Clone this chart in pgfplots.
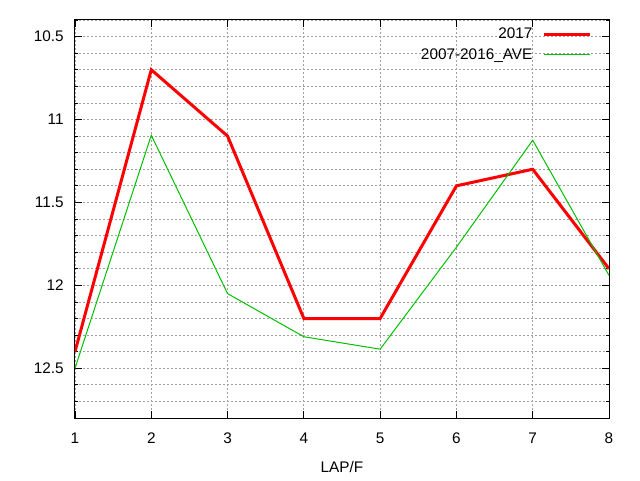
\documentclass[border=0pt]{standalone}
\usepackage{fontspec}
\setmainfont{Liberation Sans}
\usepackage{pgfplots}
\pgfplotsset{compat=1.18}
\definecolor{gpred}{RGB}{255,0,0}
\definecolor{gpgreen}{RGB}{0,192,0}
\definecolor{gpgrid}{RGB}{160,160,160}
\newcommand{\gpfont}{\fontsize{11.5}{13.8}\selectfont}
\begin{document}
\gpfont
\begin{tikzpicture}
\begin{axis}[
    name=ax,
    scale only axis,
    width=400.5pt,
    height=298.5pt,
    xmin=1, xmax=8,
    ymin=10.4, ymax=12.8,
    y dir=reverse,
    xtick={1,...,8},
    ytick={10.5,11,11.5,12,12.5},
    minor ytick={10.4,10.5,...,12.8},
    grid=both,
    major grid style={gpgrid, line width=0.6pt, dash pattern=on 1.2pt off 1.8pt},
    minor grid style={gpgrid, line width=0.6pt, dash pattern=on 1.2pt off 1.8pt},
    tick align=inside,
    major tick length=5pt,
    minor tick length=2.5pt,
    axis line style={line width=0.75pt},
    every tick/.style={black, line width=0.6pt},
    /pgf/number format/assume math mode=true,
    ticklabel style={font=\gpfont},
    xticklabel style={yshift=-7pt},
    yticklabel style={xshift=-4.5pt},
    xlabel={LAP/F},
    xlabel style={font=\gpfont, yshift=-5.5pt},
    legend plot pos=right,
    legend cell align=right,
    legend style={draw=none, fill=none, font=\gpfont,
        at={(axis description cs:1,1)}, anchor=north east,
        xshift=-13pt, yshift=-3pt,
        row sep=0pt, column sep=6pt, inner sep=0pt,
        nodes={text height=9.4pt, text depth=2.8pt, inner sep=1.5pt}},
    legend image code/.code={\draw[#1] (0pt,0pt) -- (34.5pt,0pt);},
]
\addplot[gpred, line width=2.25pt] coordinates {
    (1,12.4) (2,10.7) (3,11.1) (4,12.2) (5,12.2) (6,11.4) (7,11.3) (8,11.9)
};
\addlegendentry{2017}
\addplot[gpgreen, line width=0.75pt] coordinates {
    (1,12.5) (2,11.095) (3,12.05) (4,12.31) (5,12.385) (6,11.77) (7,11.125) (8,11.94)
};
\addlegendentry{2007-2016\_AVE}
\coordinate (lt) at (axis cs:1,10.4);
\coordinate (rb) at (axis cs:8,12.8);
\end{axis}
\pgfresetboundingbox
\path[use as bounding box] ([xshift=-56.25pt,yshift=15pt]lt) rectangle ([xshift=23.25pt,yshift=-46.5pt]rb);
\end{tikzpicture}
\end{document}
